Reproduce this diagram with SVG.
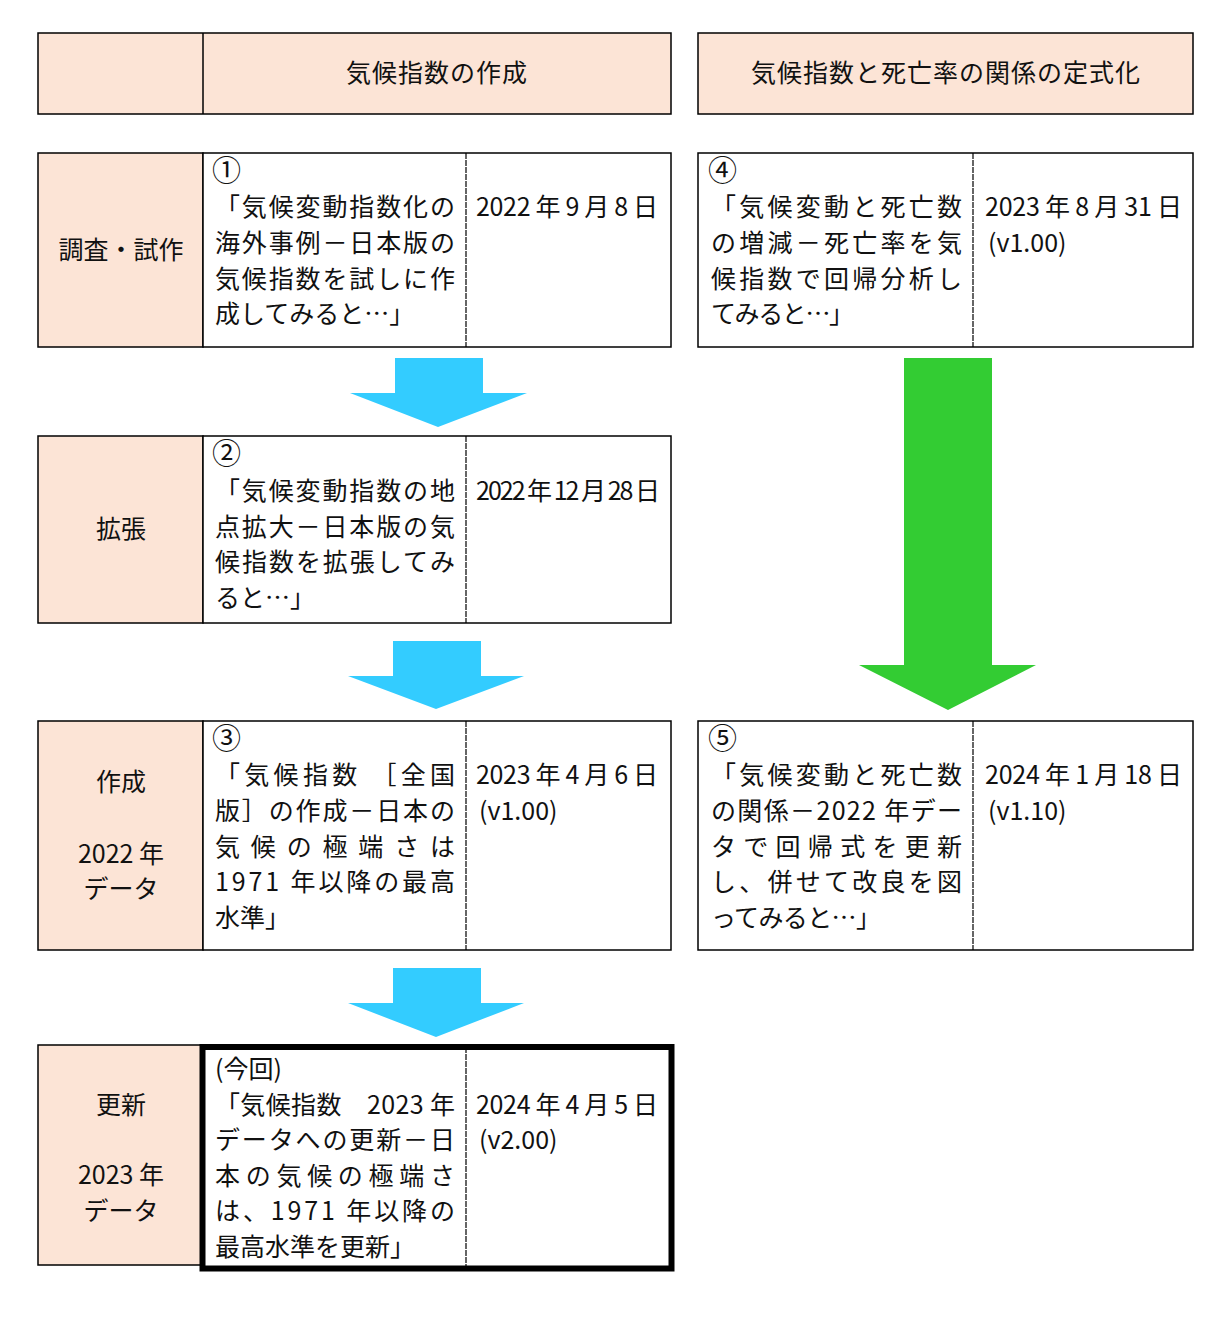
<svg xmlns="http://www.w3.org/2000/svg" width="1231" height="1317" viewBox="0 0 1231 1317">
<style>
text{font-family:"Noto Sans CJK JP","Noto Sans CJK SC",sans-serif;font-size:25px;fill:#111}
.lbl{text-anchor:middle}
.num{font-size:29px}
.cell{stroke:#000;stroke-width:1.5}
.peach{fill:#FCE4D6}
.white{fill:#fff}
.sep{stroke:#000;stroke-width:1.2;stroke-dasharray:6 1}
.blue{fill:#33CCFF}
.green{fill:#33CC33}
</style>
<rect width="1231" height="1317" fill="#fff"/>

<g id="header-left">
<rect class="cell peach" x="38" y="33" width="633" height="81"/>
<line class="cell" x1="203" y1="33" x2="203" y2="114"/>
<text x="437" y="82" class="lbl" letter-spacing="1">気候指数の作成</text>
</g>
<g id="header-right">
<rect class="cell peach" x="698" y="33" width="495" height="81"/>
<text x="946" y="82" class="lbl" letter-spacing="1">気候指数と死亡率の関係の定式化</text>
</g>

<g id="row1">
<rect class="cell peach" x="38" y="153" width="165" height="194"/>
<rect class="cell white" x="203" y="153" width="468" height="194"/>
<line class="sep" x1="466" y1="153" x2="466" y2="347"/>
<text x="121" y="259" class="lbl">調査・試作</text>
<text x="212" y="181" class="num">①</text>
<text x="215" y="216" textLength="240" lengthAdjust="spacing">「気候変動指数化の</text>
<text x="215" y="252" textLength="240" lengthAdjust="spacing">海外事例－日本版の</text>
<text x="215" y="288" textLength="240" lengthAdjust="spacing">気候指数を試しに作</text>
<text x="215" y="323">成してみると…」</text>
<text x="476" y="216" textLength="182" lengthAdjust="spacing">2022 年 9 月 8 日</text>
</g>

<g id="row4">
<rect class="cell white" x="698" y="153" width="495" height="194"/>
<line class="sep" x1="973" y1="153" x2="973" y2="347"/>
<text x="708" y="181" class="num">④</text>
<text x="711" y="216" textLength="251" lengthAdjust="spacing">「気候変動と死亡数</text>
<text x="711" y="252" textLength="251" lengthAdjust="spacing">の増減－死亡率を気</text>
<text x="711" y="288" textLength="251" lengthAdjust="spacing">候指数で回帰分析し</text>
<text x="711" y="323" textLength="143" lengthAdjust="spacing">てみると…」</text>
<text x="985" y="216" textLength="197" lengthAdjust="spacing">2023 年 8 月 31 日</text>
<text x="988" y="252">(v1.00)</text>
</g>

<g id="row2">
<rect class="cell peach" x="38" y="436" width="165" height="187"/>
<rect class="cell white" x="203" y="436" width="468" height="187"/>
<line class="sep" x1="466" y1="436" x2="466" y2="623"/>
<text x="121" y="538" class="lbl">拡張</text>
<text x="212" y="464" class="num">②</text>
<text x="215" y="500" textLength="240" lengthAdjust="spacing">「気候変動指数の地</text>
<text x="215" y="536" textLength="240" lengthAdjust="spacing">点拡大－日本版の気</text>
<text x="215" y="571" textLength="240" lengthAdjust="spacing">候指数を拡張してみ</text>
<text x="215" y="607">ると…」</text>
<text x="476" y="500" textLength="184" lengthAdjust="spacing">2022 年 12 月 28 日</text>
</g>

<g id="row3">
<rect class="cell peach" x="38" y="721" width="165" height="229"/>
<rect class="cell white" x="203" y="721" width="468" height="229"/>
<line class="sep" x1="466" y1="721" x2="466" y2="950"/>
<text x="121" y="791" class="lbl">作成</text>
<text x="121" y="863" class="lbl">2022 年</text>
<text x="121" y="898" class="lbl">データ</text>
<text x="212" y="749" class="num">③</text>
<text x="215" y="784" textLength="240" lengthAdjust="spacing">「気候指数 ［全国</text>
<text x="215" y="820" textLength="240" lengthAdjust="spacing">版］の作成－日本の</text>
<text x="215" y="856" textLength="240" lengthAdjust="spacing">気候の極端さは</text>
<text x="215" y="891" textLength="240" lengthAdjust="spacing">1971 年以降の最高</text>
<text x="215" y="927">水準」</text>
<text x="476" y="784" textLength="182" lengthAdjust="spacing">2023 年 4 月 6 日</text>
<text x="479" y="820">(v1.00)</text>
</g>

<g id="row5">
<rect class="cell white" x="698" y="721" width="495" height="229"/>
<line class="sep" x1="973" y1="721" x2="973" y2="950"/>
<text x="708" y="749" class="num">⑤</text>
<text x="711" y="784" textLength="251" lengthAdjust="spacing">「気候変動と死亡数</text>
<text x="711" y="820" textLength="251" lengthAdjust="spacing">の関係－2022 年デー</text>
<text x="711" y="856" textLength="251" lengthAdjust="spacing">タで回帰式を更新</text>
<text x="711" y="891" textLength="251" lengthAdjust="spacing">し、併せて改良を図</text>
<text x="711" y="927" textLength="170" lengthAdjust="spacing">ってみると…」</text>
<text x="985" y="784" textLength="197" lengthAdjust="spacing">2024 年 1 月 18 日</text>
<text x="988" y="820">(v1.10)</text>
</g>

<g id="row6">
<rect class="cell peach" x="38" y="1045" width="165" height="220"/>
<rect class="white" x="203" y="1047" width="468" height="221"/>
<line class="sep" x1="466" y1="1047" x2="466" y2="1268"/>
<rect x="202.5" y="1047" width="469" height="221.5" fill="none" stroke="#000" stroke-width="6"/>
<text x="121" y="1114" class="lbl">更新</text>
<text x="121" y="1184" class="lbl">2023 年</text>
<text x="121" y="1220" class="lbl">データ</text>
<text x="215" y="1078">(今回)</text>
<text x="215" y="1114" textLength="240" lengthAdjust="spacing">「気候指数　2023 年</text>
<text x="215" y="1149" textLength="240" lengthAdjust="spacing">データへの更新－日</text>
<text x="215" y="1185" textLength="240" lengthAdjust="spacing">本の気候の極端さ</text>
<text x="215" y="1220" textLength="240" lengthAdjust="spacing">は、1971 年以降の</text>
<text x="215" y="1256">最高水準を更新」</text>
<text x="476" y="1114" textLength="182" lengthAdjust="spacing">2024 年 4 月 5 日</text>
<text x="479" y="1149">(v2.00)</text>
</g>

<g id="connectors">
<polygon class="blue" points="395,358 483,358 483,393 527,393 438,427 350,393 395,393"/>
<polygon class="blue" points="393,641 481,641 481,676 524,676 436,709 348,676 393,676"/>
<polygon class="blue" points="393,968 481,968 481,1003 524,1003 436,1037 348,1003 393,1003"/>
<polygon class="green" points="904,358 992,358 992,665 1036,665 948,710 859,665 904,665"/>
</g>
</svg>
